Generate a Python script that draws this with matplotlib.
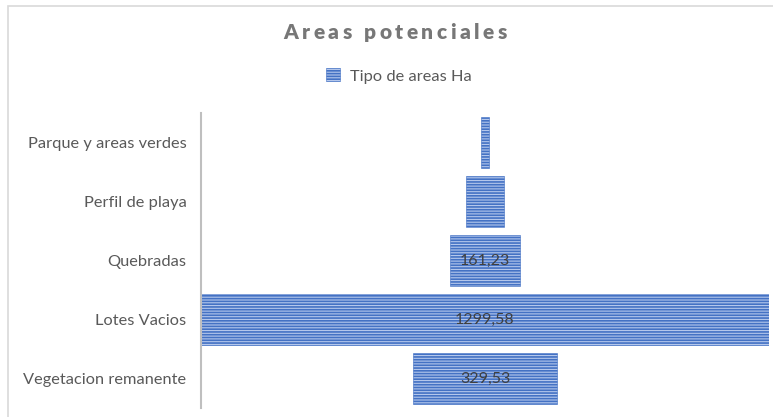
import matplotlib.pyplot as plt
from matplotlib.patches import Patch, Rectangle

categorias = ["Parque y areas verdes", "Perfil de playa", "Quebradas",
              "Lotes Vacios", "Vegetacion remanente"]
valores = [20.0, 87.0, 161.23, 1299.58, 329.53]
etiquetas = ["", "", "161,23", "1299,58", "329,53"]
serie = "Tipo de areas Ha"
titulo = "Areas potenciales"

plt.rcParams['font.family'] = ['Lato', 'DejaVu Sans']
plt.rcParams['hatch.linewidth'] = 1.2

W, H = 773, 417
fig = plt.figure(figsize=(W/100, H/100), dpi=100)
ax = fig.add_axes([201/W, 9/H, 568/W, 295/H])

azul = '#4472c4'
claro = '#b4c7ec'
lefts = [-v/2 for v in valores]
ax.barh(categorias, valores, left=lefts, height=0.85, color=claro,
        edgecolor=azul, linewidth=0.4, hatch='------')

for i, lab in enumerate(etiquetas):
    if lab:
        ax.text(0, i, lab, ha='center', va='center', fontsize=11.5, color='#404040')

vmax = max(valores)
ax.set_xlim(-vmax/2, vmax/2)
ax.set_ylim(len(categorias) - 0.5, -0.5)
ax.set_xticks([])
ax.tick_params(axis='y', length=0, pad=10.5, labelsize=11.8, labelcolor='#595959')
for s in ['top', 'right', 'bottom']:
    ax.spines[s].set_visible(False)
ax.spines['left'].set_color('#bfbfbf')
ax.spines['left'].set_linewidth(1.5)

# outer frame of the chart area
fig.patches.append(Rectangle((8/W, -0.1), 1.2, (H - 6)/H + 0.1, transform=fig.transFigure,
                             fill=False, edgecolor='#d9d9d9', linewidth=1.2))

# title with letter spacing
renderer = fig.canvas.get_renderer()
spacing = 3.5
kw = dict(fontsize=15, fontweight='heavy', color='#777777', va='baseline')
widths = []
for ch in titulo:
    if ch == ' ':
        widths.append(5.0)
        continue
    t = fig.text(0, 0, ch, **kw)
    widths.append(t.get_window_extent(renderer).width)
    t.remove()
total = sum(widths) + spacing * (len(titulo) - 1)
x = 395 - total / 2
for ch, w in zip(titulo, widths):
    if ch != ' ':
        fig.text(x / W, 1 - 39 / H, ch, **kw)
    x += w + spacing

handle = Patch(facecolor=claro, edgecolor=azul, linewidth=0.4, hatch='------')
fig.legend([handle], [serie], loc='center', bbox_to_anchor=(399/W, 1 - 76/H),
           frameon=False, fontsize=11.8, labelcolor='#595959',
           handlelength=0.85, handleheight=0.85, handletextpad=0.6)

fig.savefig("out.png", dpi=100)
